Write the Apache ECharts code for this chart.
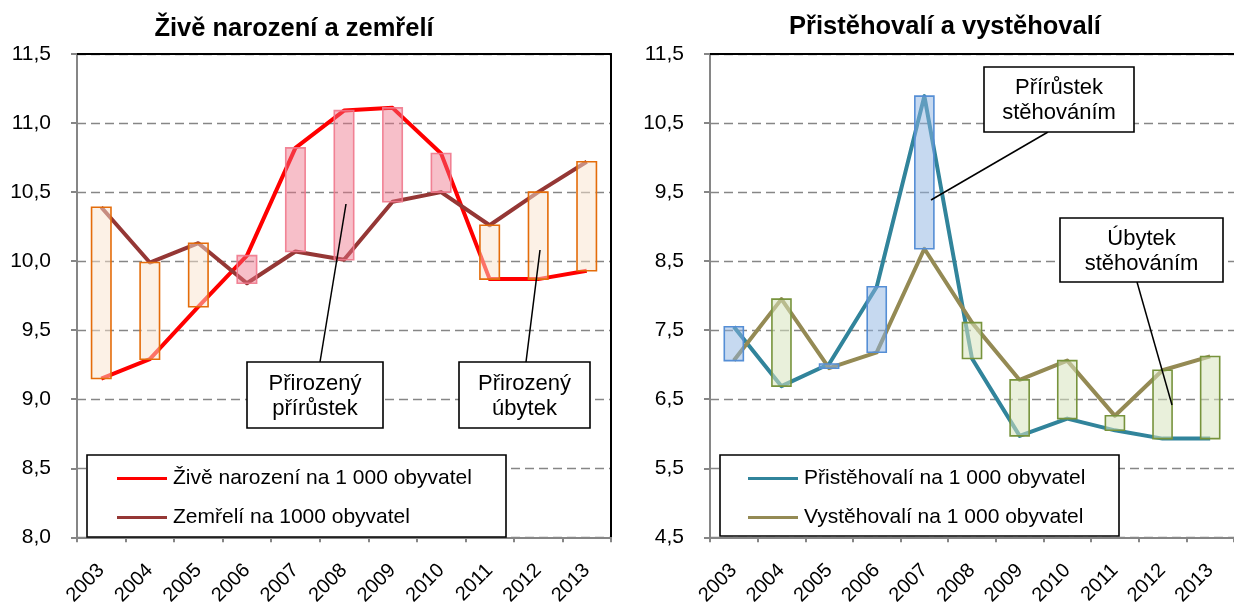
<!DOCTYPE html>
<html><head><meta charset="utf-8">
<script src="https://cdn.jsdelivr.net/npm/echarts@6/dist/echarts.min.js"></script>
<style>html,body{margin:0;padding:0;background:#fff}#c{width:1234px;height:608px}</style>
</head><body><div id="c"></div>
<script>
var years = ['2003','2004','2005','2006','2007','2008','2009','2010','2011','2012','2013'];
var births = [9.15, 9.29, 9.67, 10.04, 10.82, 11.09, 11.11, 10.78, 9.87, 9.87, 9.93];
var deaths = [10.39, 9.99, 10.13, 9.84, 10.07, 10.01, 10.43, 10.50, 10.26, 10.50, 10.72];
var immigrants = [7.55, 6.69, 7.01, 8.13, 10.89, 7.09, 5.97, 6.22, 6.05, 5.93, 5.93];
var emigrants = [7.06, 7.95, 6.95, 7.18, 8.68, 7.61, 6.78, 7.06, 6.26, 6.92, 7.12];
var leftTicks = {min: 8.0, max: 11.5, step: 0.5};
var rightTicks = {min: 4.5, max: 11.5, step: 1};

var FONT = 'Liberation Sans, Arial, sans-serif';

function rangeData(a, b) {
  return years.map(function (y, i) {
    return [i, Math.min(a[i], b[i]), Math.max(a[i], b[i]), a[i] > b[i] ? 1 : 0];
  });
}
function floatBar(styles) {
  return function (params, api) {
    var x = api.value(0), lo = api.value(1), hi = api.value(2), pos = api.value(3);
    var p1 = api.coord([x, hi]), p2 = api.coord([x, lo]);
    var w = api.size([1, 0])[0] * 0.4;
    var s = pos ? styles.pos : styles.neg;
    return {
      type: 'rect',
      shape: {x: p1[0] - w / 2, y: p1[1], width: w, height: Math.max(p2[1] - p1[1], 1)},
      style: {fill: s.fill, stroke: s.stroke, lineWidth: 1.6}
    };
  };
}
function fmt(v) { return v.toFixed(1).replace('.', ','); }

var gridLine = {show: true, lineStyle: {color: '#868686', width: 1.4, type: [9, 5]}};
var axisGray = {show: true, lineStyle: {color: '#868686', width: 2}};

function bottomX(gi) {
  return {
    type: 'category', gridIndex: gi, data: years, boundaryGap: true,
    axisLine: axisGray,
    axisTick: {show: true, length: 5, lineStyle: {color: '#868686', width: 2}},
    axisLabel: {rotate: 45, margin: 30, fontSize: 20, color: '#000', fontFamily: FONT, interval: 0}
  };
}
function topX(gi) {
  return {
    type: 'category', gridIndex: gi, data: years, position: 'top',
    axisLine: {show: true, lineStyle: {color: '#000', width: 2}},
    axisTick: {show: false}, axisLabel: {show: false}, splitLine: {show: false}
  };
}
function leftY(gi, t) {
  return {
    type: 'value', gridIndex: gi, min: t.min, max: t.max, interval: t.step,
    axisLine: axisGray,
    axisTick: {show: true, length: 6, lineStyle: {color: '#868686', width: 2}},
    axisLabel: {formatter: fmt, fontSize: 21, color: '#000', fontFamily: FONT, margin: 26},
    splitLine: gridLine
  };
}
function rightY(gi, t) {
  return {
    type: 'value', gridIndex: gi, min: t.min, max: t.max, interval: t.step, position: 'right',
    axisLine: {show: true, lineStyle: {color: '#000', width: 2}},
    axisTick: {show: false}, axisLabel: {show: false}, splitLine: {show: false}
  };
}
function lineSeries(name, data, color, xi, yi) {
  return {
    name: name, type: 'line', data: data, xAxisIndex: xi, yAxisIndex: yi,
    symbol: 'none', z: 2,
    lineStyle: {color: color, width: 4, join: 'round'}, itemStyle: {color: color}
  };
}
function callout(x, y, w, h, lines, lx1, ly1, lx2, ly2) {
  return [
    {type: 'line', z: 20, shape: {x1: lx1, y1: ly1, x2: lx2, y2: ly2}, style: {stroke: '#000', lineWidth: 1.5}},
    {type: 'rect', z: 21, shape: {x: x, y: y, width: w, height: h}, style: {fill: '#fff', stroke: '#000', lineWidth: 1.6}},
    {type: 'text', z: 22, x: x + w / 2, y: y + h / 2 + 1, style: {text: lines, fill: '#000', font: '22px ' + FONT, align: 'center', verticalAlign: 'middle', lineHeight: 25}}
  ];
}
function legendOpt(names, left) {
  return {
    data: names, orient: 'vertical', left: left, top: 468, padding: 0,
    icon: 'rect', itemWidth: 50, itemHeight: 3, itemGap: 18, z: 6,
    textStyle: {fontSize: 21, color: '#000', fontFamily: FONT, padding: [0, 0, 0, 1]}
  };
}

var chart = echarts.init(document.getElementById('c'), null, {renderer: 'canvas'});
var graphics = [
  {type: 'text', z: 10, x: 294, y: 29, style: {text: 'Živě narození a zemřelí', fill: '#000', font: 'bold 25.5px ' + FONT, align: 'center', verticalAlign: 'middle'}},
  {type: 'text', z: 10, x: 945, y: 27, style: {text: 'Přistěhovalí a vystěhovalí', fill: '#000', font: 'bold 25.5px ' + FONT, align: 'center', verticalAlign: 'middle'}},
  {type: 'rect', z: 4, shape: {x: 87, y: 455, width: 419, height: 82}, style: {fill: '#fff', stroke: '#000', lineWidth: 1.6}},
  {type: 'rect', z: 4, shape: {x: 720, y: 455, width: 399, height: 81}, style: {fill: '#fff', stroke: '#000', lineWidth: 1.6}}
].concat(
  callout(247, 362, 136, 66, 'Přirozený\npřírůstek', 320, 362, 346, 204),
  callout(459, 362, 131, 66, 'Přirozený\núbytek', 526, 362, 540, 250),
  callout(984, 67, 150, 65, 'Přírůstek\nstěhováním', 1048, 132, 931, 200),
  callout(1060, 218, 163, 64, 'Úbytek\nstěhováním', 1137, 282, 1172, 405)
);

chart.setOption({
  animation: false,
  backgroundColor: '#fff',
  textStyle: {fontFamily: FONT},
  grid: [
    {left: 77, top: 54, right: 1234 - 611, bottom: 608 - 539},
    {left: 710, top: 54, right: -7, bottom: 608 - 539}
  ],
  xAxis: [bottomX(0), topX(0), bottomX(1), topX(1)],
  yAxis: [leftY(0, leftTicks), rightY(0, leftTicks), leftY(1, rightTicks)],
  legend: [
    legendOpt(['Živě narození na 1 000 obyvatel', 'Zemřelí na 1000 obyvatel'], 117),
    legendOpt(['Přistěhovalí na 1 000 obyvatel', 'Vystěhovalí na 1 000 obyvatel'], 748)
  ],
  series: [
    lineSeries('Živě narození na 1 000 obyvatel', births, '#FF0000', 0, 0),
    lineSeries('Zemřelí na 1000 obyvatel', deaths, '#953735', 0, 0),
    {type: 'custom', xAxisIndex: 0, yAxisIndex: 0, z: 3, data: rangeData(births, deaths),
     renderItem: floatBar({pos: {fill: 'rgba(237,112,135,0.45)', stroke: 'rgba(240,120,140,0.9)'},
                           neg: {fill: 'rgba(250,228,205,0.5)', stroke: '#E46C0A'}})},
    lineSeries('Přistěhovalí na 1 000 obyvatel', immigrants, '#31849B', 2, 2),
    lineSeries('Vystěhovalí na 1 000 obyvatel', emigrants, '#948A54', 2, 2),
    {type: 'custom', xAxisIndex: 2, yAxisIndex: 2, z: 3, data: rangeData(immigrants, emigrants),
     renderItem: floatBar({pos: {fill: 'rgba(141,180,226,0.5)', stroke: '#558ED5'},
                           neg: {fill: 'rgba(215,228,189,0.55)', stroke: '#77933C'}})}
  ],
  graphic: graphics
});
</script></body></html>
